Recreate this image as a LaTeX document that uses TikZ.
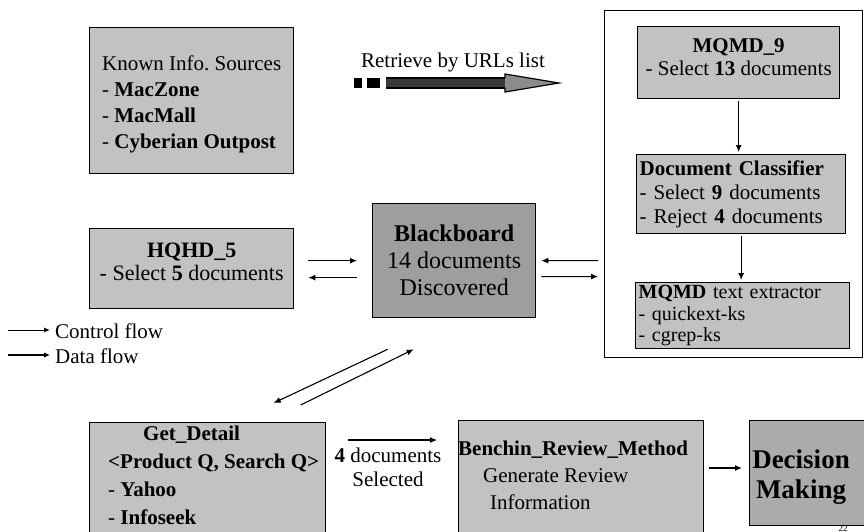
\documentclass[tikz,border=0pt]{standalone}
\usepackage{fontspec}
\setmainfont{Liberation Serif}
\usetikzlibrary{arrows.meta,calc}

\definecolor{boxgray}{HTML}{C2C2C2}
\definecolor{boardgray}{HTML}{9E9E9E}
\definecolor{decgray}{HTML}{ABABAB}
\definecolor{shaftgray}{HTML}{3A3A3A}
\definecolor{headgray}{HTML}{8C8C8C}

\tikzset{
  box/.style={draw=black, line width=1.3pt, fill=boxgray, inner sep=0pt, anchor=north west},
  txt/.style={font=\fontsize{21}{24}\selectfont},
  arr/.style={line width=1.1pt, -{Latex[length=7pt,width=6pt]}},
}

\begin{document}
\begin{tikzpicture}[x=1pt,y=-1pt]
\useasboundingbox (0,0) rectangle (864,532);
\clip (0,0) rectangle (864,532);

% information sources
\node[box, minimum width=204pt, minimum height=146pt, align=left,
      font=\fontsize{21}{26}\selectfont] (known) at (89,27)
  {\rule{0pt}{23pt}Known Info.\ Sources\\ - \textbf{MacZone}\\ - \textbf{MacMall}\\ - \textbf{Cyberian Outpost}};

% retrieval arrow
\node[txt, anchor=center] (retrieve) at (453,62) {Retrieve by URLs list};
\fill (354,78) rectangle (362,88);
\fill (367,78) rectangle (380,88);
\fill[shaftgray] (386,78) rectangle (506,88);
\filldraw[fill=headgray, draw=black, line width=1.2pt]
  (505,78) -- (505,74) -- (559,83) -- (505,92) -- (505,88);
\draw[line width=1.2pt] (386,78) -- (505,78) (386,88) -- (505,88);

% MQMD group
\node[draw=black, line width=1.1pt, minimum width=258pt, minimum height=347pt,
      inner sep=0pt, anchor=north west] (group) at (604,10) {};
\node[box, minimum width=202pt, minimum height=72pt, align=center,
      font=\fontsize{21}{23}\selectfont] (mqmd) at (637,26)
  {\textbf{MQMD\_9}\\ - Select \textbf{13} documents\rule[-12pt]{0pt}{0pt}};
\node[box, txt, minimum width=209pt, minimum height=79pt, align=left, text width=203pt] (classifier) at (636,154)
  {\textbf{Document Classifier}\\ - Select \textbf{9} documents\\ - Reject \textbf{4} documents};
\node[box, minimum width=214pt, minimum height=66pt, align=left, text width=208pt,
      font=\fontsize{20}{21.5}\selectfont] (extractor) at (635,282)
  {\textbf{MQMD} text extractor\\ - quickext-ks\\ - cgrep-ks};

\draw[arr] ([yshift=-2pt]mqmd.south) -- ([yshift=2pt]mqmd.south |- classifier.north);
\draw[arr] ([yshift=-2pt]classifier.south) -- ([yshift=2pt]classifier.south |- extractor.north);

% HQHD and blackboard
\node[box, minimum width=204pt, minimum height=80pt, align=center,
      font=\fontsize{22}{23}\selectfont] (hqhd) at (89,228)
  {\textbf{HQHD\_5}\\ - Select \textbf{5} documents\rule[-14pt]{0pt}{0pt}};
\node[box, fill=boardgray, minimum width=163pt, minimum height=114pt, align=center,
      font=\fontsize{24}{27}\selectfont] (board) at (372,203)
  {\textbf{Blackboard}\\ 14 documents\\ Discovered};

\draw[arr] ([shift={(14,-8)}]hqhd.east) -- ([shift={(-15,0)}]board.west);
\draw[arr] ([shift={(-15,17)}]board.west) -- ([shift={(14,9)}]hqhd.east);
\draw[arr] ([shift={(-6,76.5)}]group.west) -- ([shift={(5,0)}]board.east);
\draw[arr] ([shift={(5,16)}]board.east) -- ([shift={(-6,92.5)}]group.west);

% legend
\coordinate (ctrlA) at (8,330);
\coordinate (ctrlB) at (50,330);
\coordinate (dataA) at (8,355);
\coordinate (dataB) at (50,355);
\draw[line width=1pt, -{Latex[length=6pt,width=5pt]}] (ctrlA) -- (ctrlB);
\draw[line width=1.4pt, -{Latex[length=6pt,width=5.5pt]}] (dataA) -- (dataB);
\node[txt, anchor=west, inner sep=0pt] (ctrltext) at (55,331) {Control flow};
\node[txt, anchor=west, inner sep=0pt] (datatext) at (55,356) {Data flow};

% detail retrieval and review
\node[box, minimum width=236pt, minimum height=130pt] (getdetail) at (89,422) {};
\node[anchor=north west, align=left, inner sep=0pt, font=\fontsize{21}{28}\selectfont] (getdetailtext)
  at ([shift={(19,4)}]getdetail.north west)
  {\hspace*{35pt}\textbf{Get\_Detail}\\ \textbf{<Product Q, Search Q>}\\ - \textbf{Yahoo}\\ - \textbf{Infoseek}};

\draw[arr] ([shift={(-66.5,31)}]board.south) -- ([shift={(66,-19)}]getdetail.north);
\draw[arr] ([shift={(93,-17)}]getdetail.north) -- ([shift={(-40.5,31)}]board.south);

\node[box, minimum width=245pt, minimum height=130pt] (benchin) at (458,420) {};
\node[anchor=north west, align=left, inner sep=0pt, font=\fontsize{21}{27}\selectfont] (benchintext)
  at ([shift={(0,21)}]benchin.north west)
  {\textbf{Benchin\_Review\_Method}\\ \hspace*{25pt}Generate Review\\ \hspace*{32pt}Information};

\draw[arr] ([shift={(22,18)}]getdetail.north east) -- ([shift={(-21,20)}]benchin.north west);
\node[txt, align=center, inner sep=0pt] (selected) at (388,467) {\textbf{4} documents\\ Selected};

\node[box, fill=decgray, minimum width=125pt, minimum height=105pt] (decision) at (749,420) {};
\node[align=center, inner sep=0pt, font=\fontsize{27}{30}\selectfont] (decisiontext) at (801,477)
  {\textbf{Decision}\\ \textbf{Making}};
\draw[arr] ([shift={(5,48)}]benchin.north east) -- ([shift={(-7,48)}]decision.north west);

% page number
\node[font=\fontsize{9}{9}\selectfont, inner sep=0pt, anchor=base] (pagenum) at (843,531.5) {22};
\end{tikzpicture}
\end{document}
